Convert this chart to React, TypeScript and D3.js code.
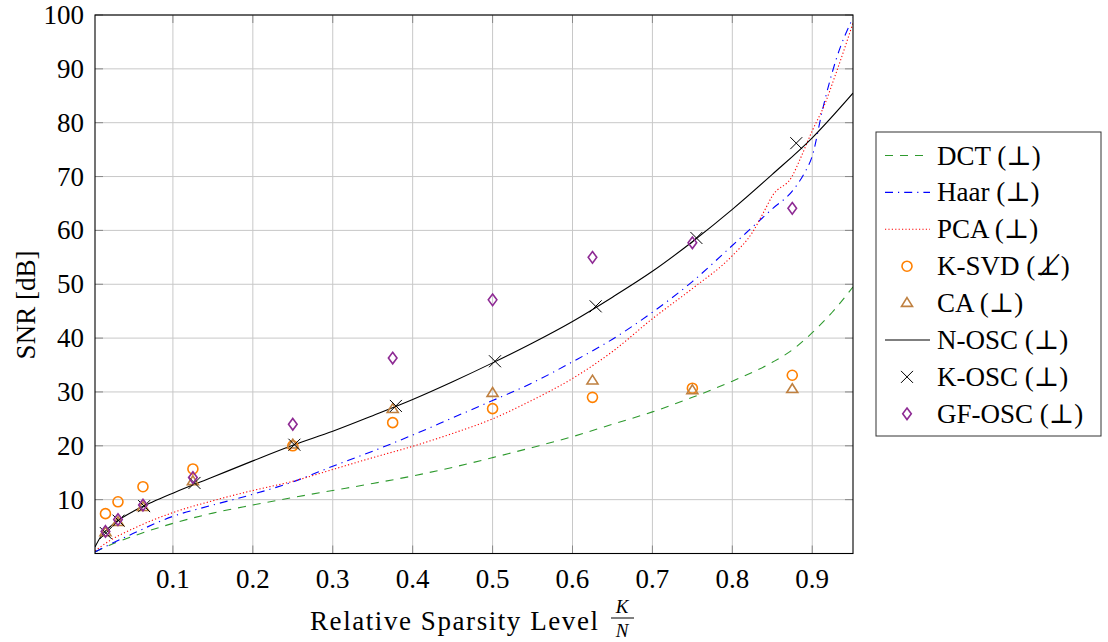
import React from 'react';
import * as d3 from 'd3';

// ---- data ----
const xTicks = [0.1, 0.2, 0.3, 0.4, 0.5, 0.6, 0.7, 0.8, 0.9];
const yTicks = [10, 20, 30, 40, 50, 60, 70, 80, 90, 100];

const dctX = [0.0025, 0.02, 0.05, 0.1, 0.15, 0.2, 0.25, 0.3, 0.35, 0.4, 0.45, 0.5, 0.55, 0.6, 0.65, 0.7, 0.75, 0.8, 0.85, 0.875, 0.9, 0.925, 0.951];
const dctY = [0.3, 1.5, 3.2, 5.6, 7.5, 9.0, 10.4, 11.7, 13.0, 14.4, 16.0, 17.8, 19.7, 21.7, 24.0, 26.3, 29.0, 32.0, 35.5, 37.8, 41.0, 44.8, 49.5];

const haarX = [0.0025, 0.02, 0.05, 0.1, 0.15, 0.2, 0.25, 0.3, 0.35, 0.4, 0.45, 0.5, 0.55, 0.6, 0.65, 0.7, 0.75, 0.8, 0.825, 0.85, 0.875, 0.89, 0.9, 0.913, 0.93, 0.951];
const haarY = [0.3, 1.6, 3.7, 6.9, 9.0, 11.0, 13.3, 16.2, 19.0, 22.0, 25.2, 28.4, 31.7, 35.6, 39.8, 44.8, 50.5, 57.2, 60.6, 64.0, 67.3, 70.6, 73.8, 82.5, 91.8, 99.5];

const pcaX = [0.0025, 0.02, 0.05, 0.1, 0.15, 0.2, 0.25, 0.3, 0.35, 0.4, 0.45, 0.5, 0.55, 0.6, 0.65, 0.7, 0.75, 0.8, 0.825, 0.84, 0.85, 0.875, 0.885, 0.9, 0.915, 0.93, 0.951];
const pcaY = [0.5, 2.3, 4.6, 7.6, 9.8, 11.7, 13.4, 15.6, 17.8, 19.9, 22.3, 25.0, 28.5, 32.5, 37.5, 43.6, 49.2, 55.3, 59.6, 63.6, 66.4, 70.1, 73.3, 78.5, 83.2, 89.3, 98.5];

const noscX = [0.0025, 0.01, 0.02, 0.03, 0.05, 0.075, 0.1, 0.15, 0.2, 0.25, 0.3, 0.35, 0.4, 0.45, 0.5, 0.55, 0.6, 0.65, 0.7, 0.75, 0.8, 0.85, 0.9, 0.951];
const noscY = [1.2, 3.2, 4.8, 6.0, 7.8, 9.6, 11.2, 14.2, 17.2, 20.1, 22.7, 25.6, 28.6, 31.9, 35.4, 39.1, 43.1, 47.6, 52.4, 57.9, 63.9, 70.4, 77.2, 85.5];

const ksvdX = [0.0156, 0.03125, 0.0625, 0.125, 0.25, 0.375, 0.5, 0.625, 0.75, 0.875];
const ksvdY = [7.4, 9.6, 12.4, 15.7, 20.0, 24.3, 26.9, 29.0, 30.7, 33.1];

const caX = [0.0156, 0.03125, 0.0625, 0.125, 0.25, 0.375, 0.5, 0.625, 0.75, 0.875];
const caY = [3.9, 5.8, 8.6, 13.4, 20.2, 26.8, 29.8, 32.1, 30.3, 30.5];

const koscX = [0.016, 0.032, 0.064, 0.127, 0.252, 0.379, 0.503, 0.629, 0.755, 0.88];
const koscY = [3.8, 6.1, 8.8, 13.1, 20.2, 27.4, 35.7, 45.9, 58.6, 76.2];

const gfoscX = [0.0156, 0.03125, 0.0625, 0.125, 0.25, 0.375, 0.5, 0.625, 0.75, 0.875];
const gfoscY = [4.1, 6.3, 9.0, 14.1, 24.0, 36.3, 47.1, 55.0, 57.7, 64.1];

const legendLabels = ['DCT (⊥)', 'Haar (⊥)', 'PCA (⊥)', 'K-SVD (⊥̸)', 'CA (⊥)', 'N-OSC (⊥)', 'K-OSC (⊥)', 'GF-OSC (⊥)'];

// ---- styles ----
const FONT = 'Liberation Serif, DejaVu Serif, serif';
const C_DCT = '#2e9a2e';
const C_HAAR = '#0000ff';
const C_PCA = '#ff0000';
const C_KSVD = '#ff8000';
const C_CA = '#bf8040';
const C_GF = '#8e2a94';

const x = d3.scaleLinear().domain([0.0025, 0.951]).range([95, 853]);
const y = d3.scaleLinear().domain([0, 100]).range([553.5, 15]);

const lineGen = d3.line<[number, number]>().x(d => x(d[0])).y(d => y(d[1])).curve(d3.curveMonotoneX);
const zip = (a: number[], b: number[]) => a.map((v, i) => [v, b[i]] as [number, number]);

function Circle({ cx, cy }: { cx: number; cy: number }) {
  return <circle cx={cx} cy={cy} r={5} fill="none" stroke={C_KSVD} strokeWidth={1.6} />;
}
function Tri({ cx, cy }: { cx: number; cy: number }) {
  const s = 5.5;
  return <path d={`M${cx},${cy - s} L${cx + s},${cy + s * 0.6} L${cx - s},${cy + s * 0.6} Z`} fill="none" stroke={C_CA} strokeWidth={1.6} />;
}
function Cross({ cx, cy }: { cx: number; cy: number }) {
  const s = 6;
  return <path d={`M${cx - s},${cy - s} L${cx + s},${cy + s} M${cx - s},${cy + s} L${cx + s},${cy - s}`} stroke="#000" strokeWidth={1} />;
}
function Diamond({ cx, cy }: { cx: number; cy: number }) {
  const w = 4.3, h = 5.8;
  return <path d={`M${cx},${cy - h} L${cx + w},${cy} L${cx},${cy + h} L${cx - w},${cy} Z`} fill="none" stroke={C_GF} strokeWidth={1.6} />;
}

const tstyle: React.CSSProperties = { fontFamily: FONT };

export default function App() {
  const [x0, x1] = x.range();
  const [y0, y1] = y.range();
  const legX = 876, legY = 132, legW = 225, legH = 304;
  const rowY = (i: number) => 155.5 + i * 36.9;
  return (
    <svg width={1108} height={642} style={{ position: 'absolute', left: 0, top: 0, background: '#fff' }}>
      <rect x={0} y={0} width={1108} height={642} fill="#fff" />
      {/* grid */}
      {xTicks.map(t => <line key={'gx' + t} x1={x(t)} x2={x(t)} y1={y1} y2={y0} stroke="#c8c8c8" strokeWidth={1} />)}
      {yTicks.map(t => <line key={'gy' + t} x1={x0} x2={x1} y1={y(t)} y2={y(t)} stroke="#c8c8c8" strokeWidth={1} />)}
      {/* ticks */}
      {xTicks.map(t => (
        <g key={'tx' + t}>
          <line x1={x(t)} x2={x(t)} y1={y0} y2={y0 - 8} stroke="#888" strokeWidth={1} />
          <line x1={x(t)} x2={x(t)} y1={y1} y2={y1 + 8} stroke="#888" strokeWidth={1} />
        </g>
      ))}
      {yTicks.map(t => (
        <g key={'ty' + t}>
          <line x1={x0} x2={x0 + 8} y1={y(t)} y2={y(t)} stroke="#888" strokeWidth={1} />
          <line x1={x1} x2={x1 - 8} y1={y(t)} y2={y(t)} stroke="#888" strokeWidth={1} />
        </g>
      ))}
      <defs>
        <clipPath id="plotclip"><rect x={x0} y={y1} width={x1 - x0} height={y0 - y1} /></clipPath>
      </defs>
      <g clipPath="url(#plotclip)">
        <path d={lineGen(zip(dctX, dctY)) || ''} fill="none" stroke={C_DCT} strokeWidth={1.1} strokeDasharray="8 7" />
        <path d={lineGen(zip(haarX, haarY)) || ''} fill="none" stroke={C_HAAR} strokeWidth={1.1} strokeDasharray="8 5 1.2 5" />
        <path d={lineGen(zip(pcaX, pcaY)) || ''} fill="none" stroke={C_PCA} strokeWidth={1.1} strokeDasharray="1.2 2.2" />
        <path d={lineGen(zip(noscX, noscY)) || ''} fill="none" stroke="#000" strokeWidth={1.1} />
      </g>
      {zip(ksvdX, ksvdY).map((d, i) => <Circle key={'k' + i} cx={x(d[0])} cy={y(d[1])} />)}
      {zip(caX, caY).map((d, i) => <Tri key={'c' + i} cx={x(d[0])} cy={y(d[1])} />)}
      {zip(koscX, koscY).map((d, i) => <Cross key={'x' + i} cx={x(d[0])} cy={y(d[1])} />)}
      {zip(gfoscX, gfoscY).map((d, i) => <Diamond key={'g' + i} cx={x(d[0])} cy={y(d[1])} />)}
      {/* axis box */}
      <rect x={x0} y={y1} width={x1 - x0} height={y0 - y1} fill="none" stroke="#000" strokeWidth={1.1} />
      {/* tick labels */}
      {xTicks.map(t => <text key={'lx' + t} style={tstyle} x={x(t)} y={588} textAnchor="middle" fontSize={27}>{t.toFixed(1)}</text>)}
      {yTicks.map(t => <text key={'ly' + t} style={tstyle} x={84} y={y(t) + 9} textAnchor="end" fontSize={27}>{t}</text>)}
      {/* axis labels */}
      <text style={tstyle} x={310} y={630} fontSize={27} textLength={288} lengthAdjust="spacing">Relative Sparsity Level</text>
      <text style={tstyle} x={622} y={613} textAnchor="middle" fontSize={19} fontStyle="italic">K</text>
      <line x1={611} x2={634} y1={618} y2={618} stroke="#000" strokeWidth={1} />
      <text style={tstyle} x={622} y={637} textAnchor="middle" fontSize={19} fontStyle="italic">N</text>
      <text style={tstyle} transform="translate(35,305) rotate(-90)" textAnchor="middle" fontSize={27}>SNR [dB]</text>
      {/* legend */}
      <rect x={legX} y={legY} width={legW} height={legH} fill="#fff" stroke="#333" strokeWidth={1} />
      {legendLabels.map((lab, i) => {
        const cy = rowY(i);
        let sample: React.ReactNode = null;
        if (i === 0) sample = <line x1={885} x2={930} y1={cy} y2={cy} stroke={C_DCT} strokeWidth={1.1} strokeDasharray="8 7" />;
        if (i === 1) sample = <line x1={885} x2={930} y1={cy} y2={cy} stroke={C_HAAR} strokeWidth={1.1} strokeDasharray="8 5 1.2 5" />;
        if (i === 2) sample = <line x1={885} x2={930} y1={cy} y2={cy} stroke={C_PCA} strokeWidth={1.1} strokeDasharray="1.2 2.2" />;
        if (i === 3) sample = <Circle cx={907} cy={cy} />;
        if (i === 4) sample = <Tri cx={907} cy={cy} />;
        if (i === 5) sample = <line x1={885} x2={930} y1={cy} y2={cy} stroke="#000" strokeWidth={1.1} />;
        if (i === 6) sample = <Cross cx={907} cy={cy} />;
        if (i === 7) sample = <Diamond cx={907} cy={cy} />;
        return (
          <g key={'leg' + i}>
            {sample}
            <text style={tstyle} x={937} y={cy + 9} fontSize={27}>{lab}</text>
          </g>
        );
      })}
    </svg>
  );
}
